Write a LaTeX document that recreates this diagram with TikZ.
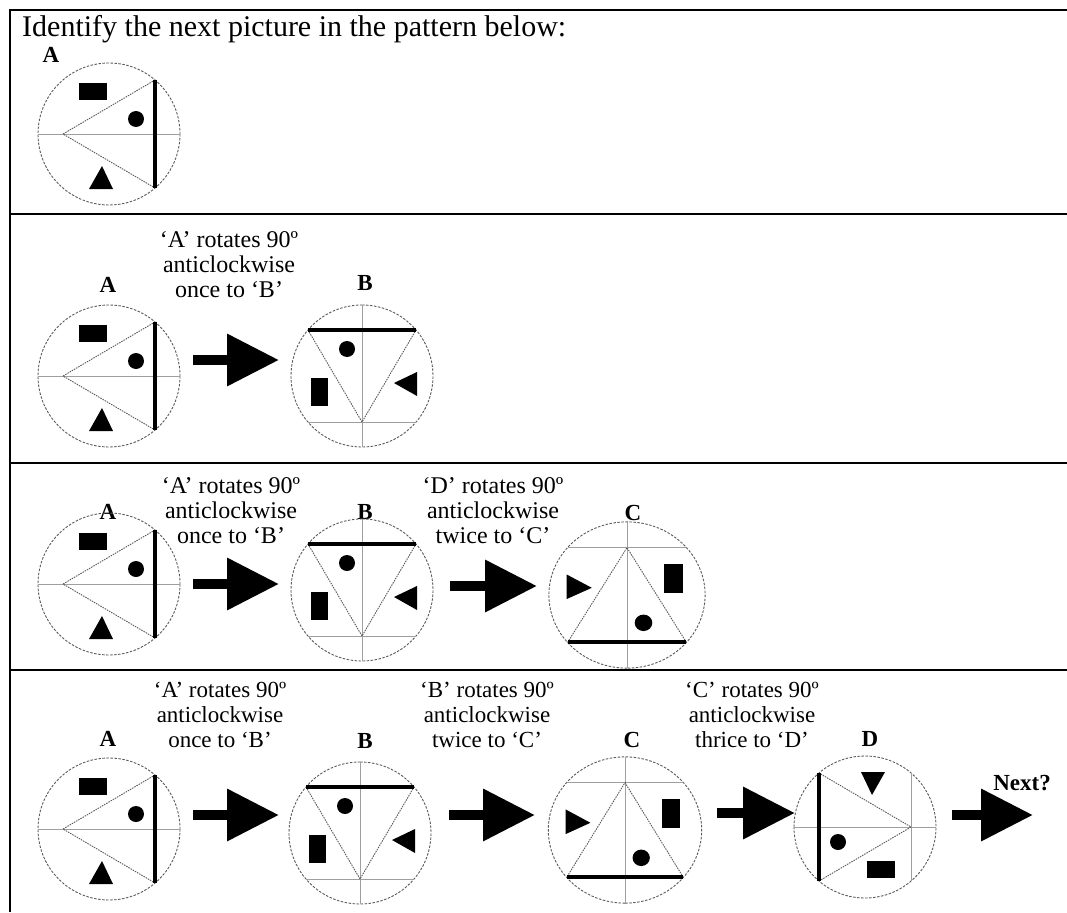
\documentclass[tikz,border=0pt]{standalone}
\usepackage{fontspec}
\setmainfont{Liberation Serif}
\usetikzlibrary{arrows.meta}

% one pattern picture: #1 centre, #2 turn angle, #3 scaling, #4 apex chord (1 = yes)
\newcommand{\spinfig}[4]{%
  \begin{scope}[shift={#1}, #3, rotate=#2]
    \draw[ring] (0,0) circle (71);
    \draw[guide] (-71,0) -- (71,0);
    \ifnum#4=1 \draw[guide] (-46,-54) -- (-46,54);\fi
    \draw[dotline] (46,-54) -- (-46,0) -- (46,54);
    \draw[bar] (46,-54) -- (46,54);
    \fill (-30,-51) rectangle (-2,-34);
    \fill (27,-15) circle (8);
    \fill (-20,55) -- (4,55) -- (-7,32) -- cycle;
  \end{scope}}

\begin{document}
\begin{tikzpicture}[x=1pt, y=-1pt,
    ring/.style={line width=0.9pt, black!65, dash pattern=on 2.5pt off 1.5pt},
    guide/.style={line width=0.7pt, gray!75},
    dotline/.style={line width=0.9pt, gray!70!black, dash pattern=on 1.5pt off 1pt},
    bar/.style={line width=3.8pt},
    rule/.style={line width=2.5pt},
    blockarrow/.style={line width=10pt, -{Triangle[length=52pt, width=50pt]}},
    lbl/.style={font=\fontsize{24}{25}\selectfont, align=center, inner sep=0pt},
    lblsm/.style={font=\fontsize{23}{25}\selectfont, align=center, inner sep=0pt},
    tag/.style={font=\fontsize{23}{23}\selectfont\bfseries, inner sep=0pt}]

    \useasboundingbox (0,0) rectangle (1067,912);

    % --- Frame ---
    % Outer top and left border
    \draw[rule] (1067,10) -- (10,10) -- (10,912);
    % Panel dividers
    \draw[rule] (10,214) -- (1067,214);
    \draw[rule] (10,463) -- (1067,463);
    \draw[rule] (10,670) -- (1067,670);

    % --- Panel 1 ---
    % Question text
    \node[anchor=base west, font=\fontsize{30}{30}\selectfont, inner sep=0pt] (ttl) at (22,37)
        {Identify the next picture in the pattern below:};
    % Picture A
    \node[tag] (p1a) at (51,55) {A};
    \spinfig{(109,134)}{0}{}{0}

    % --- Panel 2 ---
    % Picture A
    \node[tag] (p2a) at (108,285) {A};
    \spinfig{(109,376)}{0}{}{0}
    % Step A to B
    \node[lbl] (p2t) at (229,265) {‘A’ rotates 90º\\anticlockwise\\once to ‘B’};
    \coordinate (p2s) at (193,360);
    \coordinate (p2e) at (279,360);
    \draw[blockarrow] (p2s) -- (p2e);
    % Picture B
    \node[tag] (p2b) at (365,283) {B};
    \spinfig{(362,376)}{90}{}{1}

    % --- Panel 3 ---
    % Picture A
    \node[tag] (p3a) at (108,512) {A};
    \spinfig{(109,584)}{0}{}{0}
    % Step A to B
    \node[lbl] (p3t1) at (231,511) {‘A’ rotates 90º\\anticlockwise\\once to ‘B’};
    \coordinate (p3s1) at (193,584);
    \coordinate (p3e1) at (279,584);
    \draw[blockarrow] (p3s1) -- (p3e1);
    % Picture B
    \node[tag] (p3b) at (365,512) {B};
    \spinfig{(362,590)}{90}{}{1}
    % Step B to C
    \node[lbl] (p3t2) at (493,511) {‘D’ rotates 90º\\anticlockwise\\twice to ‘C’};
    \coordinate (p3s2) at (450,586);
    \coordinate (p3e2) at (537,586);
    \draw[blockarrow] (p3s2) -- (p3e2);
    % Picture C
    \node[tag] (p3c) at (633,513) {C};
    \spinfig{(627,595)}{270}{xscale=1.1, yscale=1.03}{1}

    % --- Panel 4 ---
    % Picture A
    \node[tag] (p4a) at (108,739) {A};
    \spinfig{(109,829)}{0}{}{0}
    % Step A to B
    \node[lblsm] (p4t1) at (220,715) {‘A’ rotates 90º\\anticlockwise\\once to ‘B’};
    \coordinate (p4s1) at (193,815);
    \coordinate (p4e1) at (279,815);
    \draw[blockarrow] (p4s1) -- (p4e1);
    % Picture B
    \node[tag] (p4b) at (365,741) {B};
    \spinfig{(360,833)}{90}{}{1}
    % Step B to C
    \node[lblsm] (p4t2) at (487,715) {‘B’ rotates 90º\\anticlockwise\\twice to ‘C’};
    \coordinate (p4s2) at (449,815);
    \coordinate (p4e2) at (535,815);
    \draw[blockarrow] (p4s2) -- (p4e2);
    % Picture C
    \node[tag] (p4c) at (632,740) {C};
    \spinfig{(625,830)}{270}{xscale=1.08, yscale=1.03}{1}
    % Step C to D
    \node[lblsm] (p4t3) at (752,715) {‘C’ rotates 90º\\anticlockwise\\thrice to ‘D’};
    \coordinate (p4s3) at (717,813);
    \coordinate (p4e3) at (795,813);
    \draw[blockarrow] (p4s3) -- (p4e3);
    % Picture D
    \node[tag] (p4d) at (870,739) {D};
    \spinfig{(865,827)}{180}{}{1}
    % Next step
    \node[tag] (nxt) at (1022,783) {Next?};
    \coordinate (p4s4) at (952,815);
    \coordinate (p4e4) at (1033,815);
    \draw[blockarrow] (p4s4) -- (p4e4);

\end{tikzpicture}
\end{document}
